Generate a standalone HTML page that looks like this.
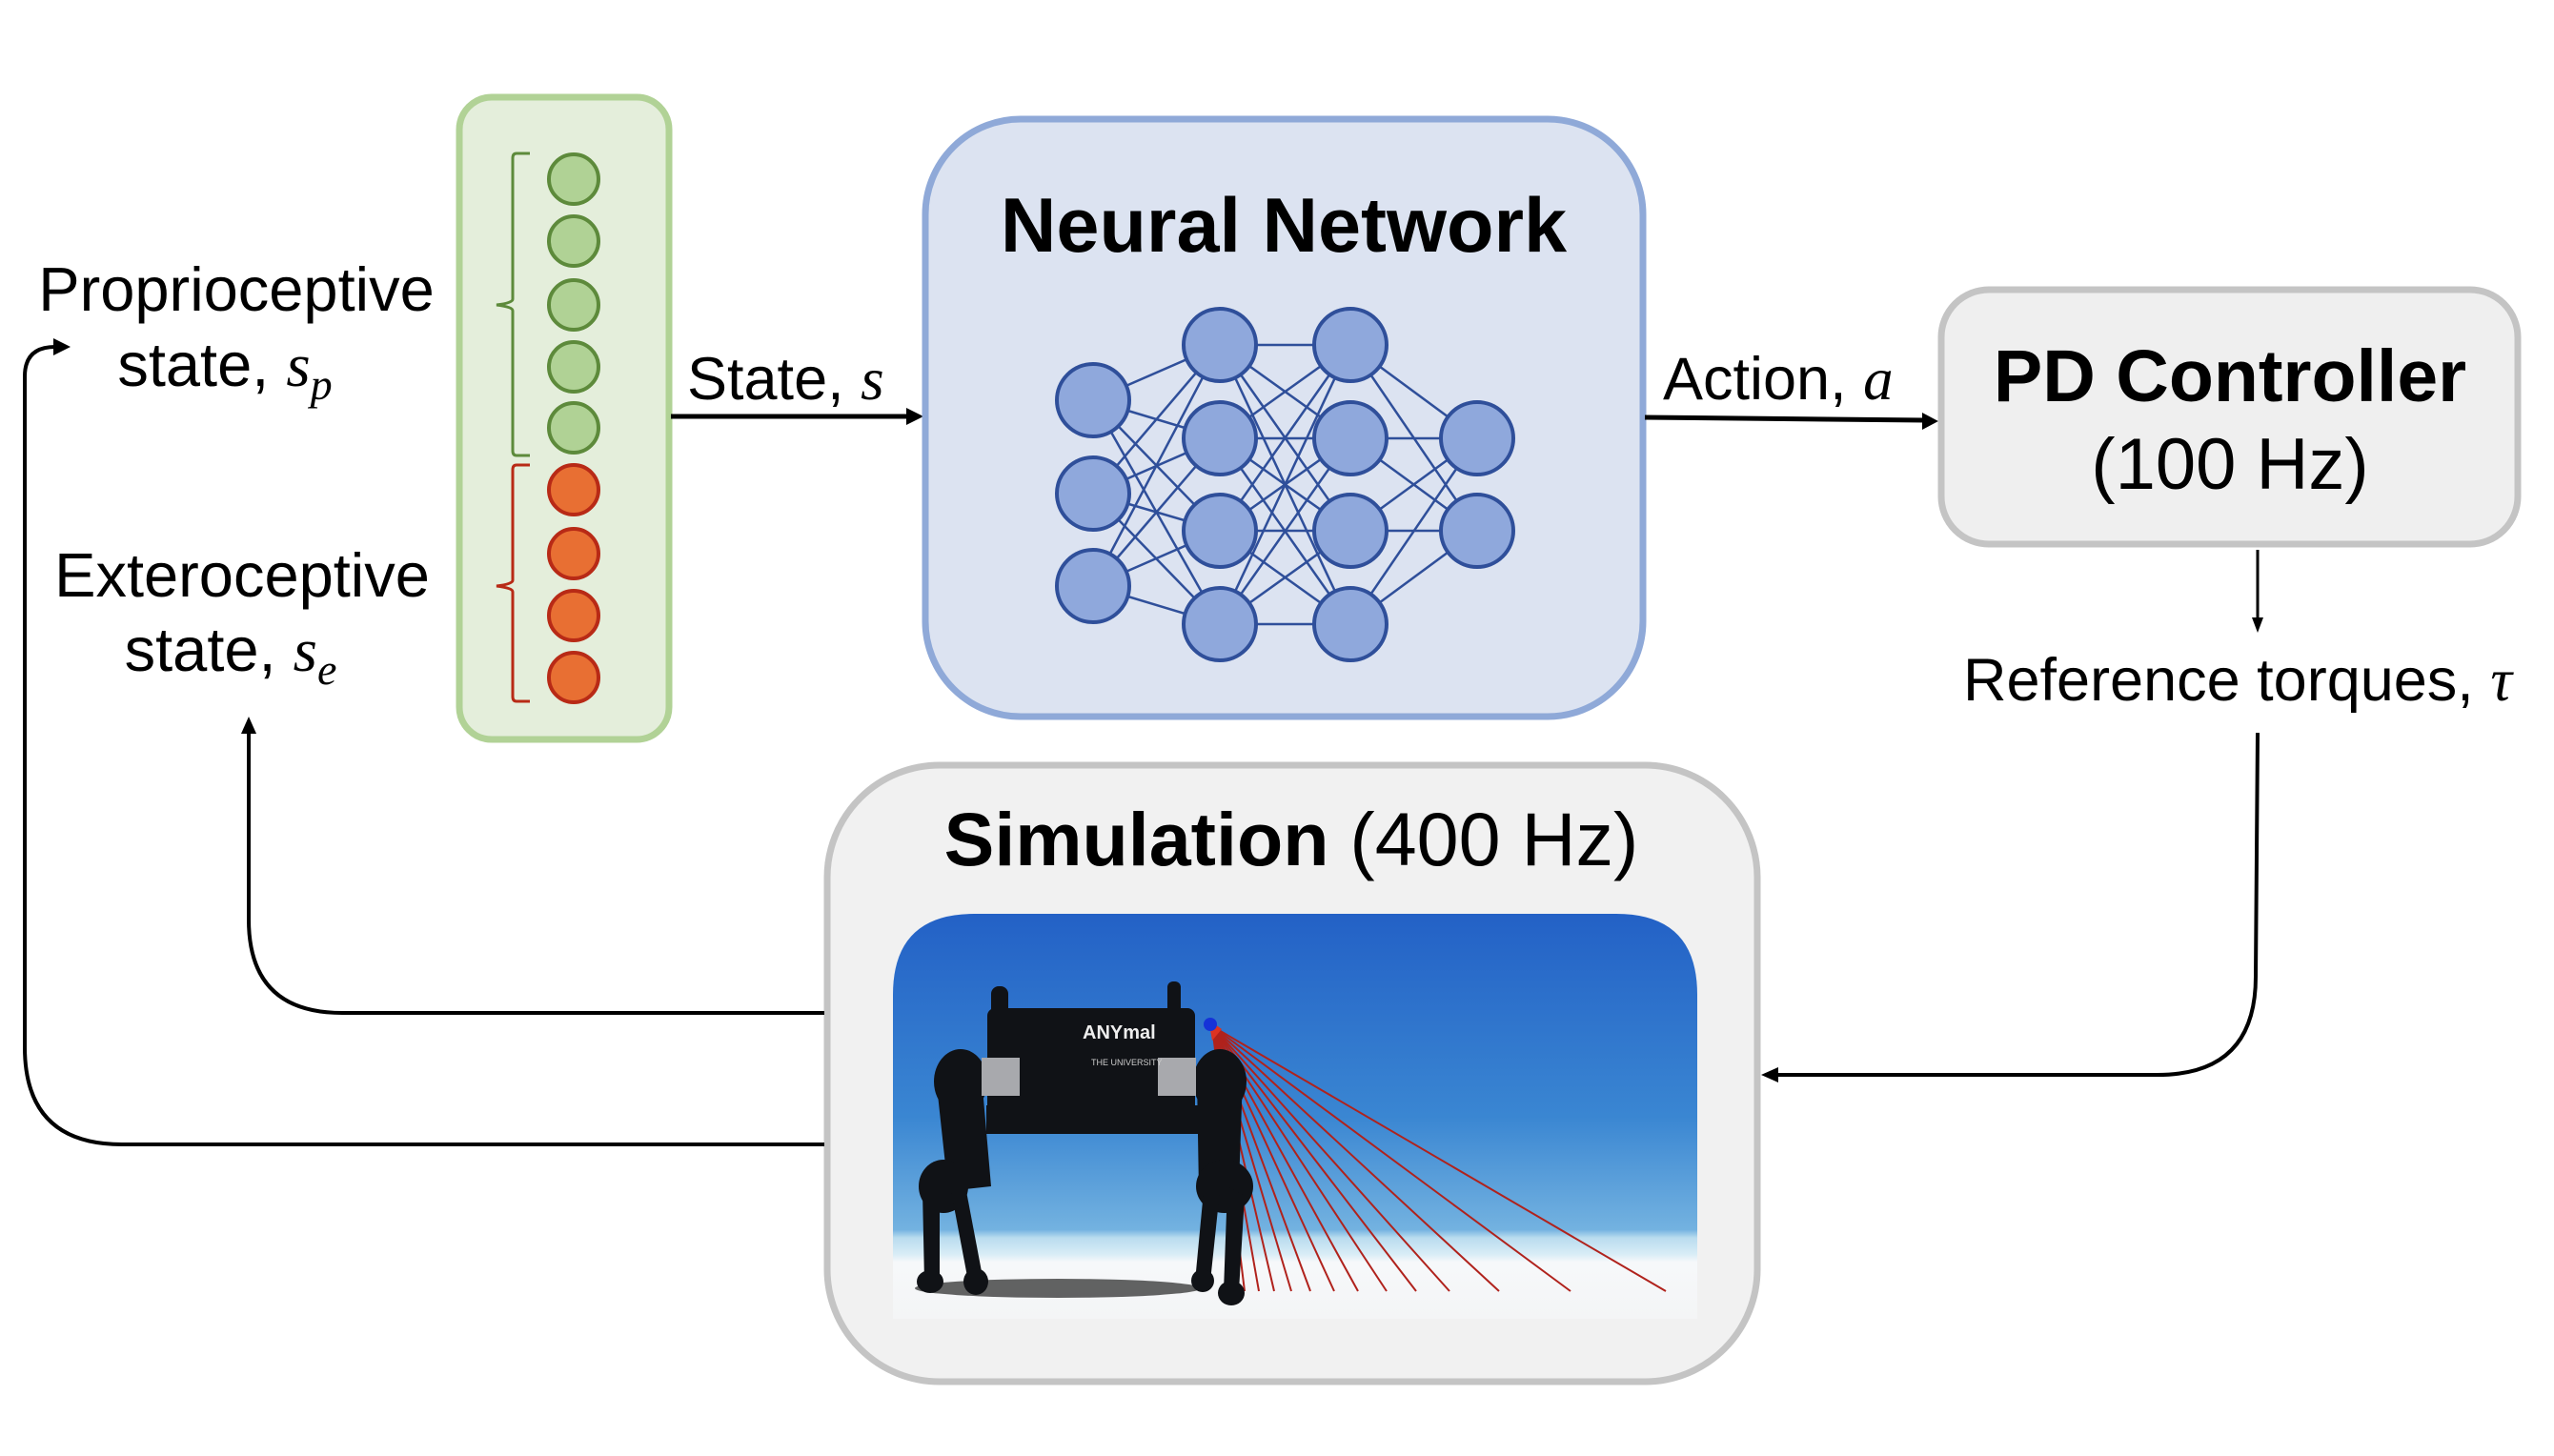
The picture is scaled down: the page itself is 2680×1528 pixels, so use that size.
<!DOCTYPE html>
<html><head><meta charset="utf-8"><style>
html,body{margin:0;padding:0;background:#fff}
svg{display:block}
text{font-family:"Liberation Sans",Arial,sans-serif}
.m{font-family:"Liberation Serif",serif;font-style:italic}
</style></head><body>
<svg width="2680" height="1528" viewBox="0 0 2680 1528" xmlns="http://www.w3.org/2000/svg">
<defs>
<linearGradient id="sky" x1="0" y1="0" x2="0" y2="1">
<stop offset="0" stop-color="#2361c6"/><stop offset="0.5" stop-color="#3a86d2"/><stop offset="0.78" stop-color="#73b2e0"/><stop offset="0.8" stop-color="#b9dcef"/><stop offset="0.84" stop-color="#d8ecf6"/><stop offset="0.86" stop-color="#f6f8fa"/><stop offset="1" stop-color="#f4f5f6"/>
</linearGradient>
<clipPath id="imgclip"><path d="M937,1384 L937,1044 Q937,959 1022,959 L1696,959 Q1781,959 1781,1044 L1781,1384 Z"/></clipPath>
</defs>

<rect x="482" y="102" width="220" height="674" rx="34" fill="#e4eedb" stroke="#b1d296" stroke-width="7"/>
<g stroke="#5d8a3b" stroke-width="4" fill="#b0d295">
<circle cx="602" cy="188" r="26"/><circle cx="602" cy="253" r="26"/><circle cx="602" cy="320" r="26"/><circle cx="602" cy="385" r="26"/><circle cx="602" cy="449" r="26"/>
</g>
<g stroke="#b82a16" stroke-width="4" fill="#e86f33">
<circle cx="602" cy="514" r="26"/><circle cx="602" cy="581" r="26"/><circle cx="602" cy="646" r="26"/><circle cx="602" cy="711" r="26"/>
</g>
<path d="M556,161 L542,161 Q538,161 538,166 L538,314 Q538,318 521,320 Q538,322 538,326 L538,473 Q538,478 542,478 L556,478" fill="none" stroke="#5d8a3b" stroke-width="3"/>
<path d="M556,488 L542,488 Q538,488 538,493 L538,609 Q538,613 521,615 Q538,617 538,621 L538,731 Q538,736 542,736 L556,736" fill="none" stroke="#b82a16" stroke-width="3"/>

<text x="248" y="326" font-size="65" text-anchor="middle">Proprioceptive</text>
<text x="236" y="405" font-size="65" text-anchor="middle">state, <tspan class="m">s</tspan><tspan class="m" font-size="46" dy="14">p</tspan></text>
<text x="254" y="626" font-size="65" text-anchor="middle">Exteroceptive</text>
<text x="242" y="704" font-size="65" text-anchor="middle">state, <tspan class="m">s</tspan><tspan class="m" font-size="46" dy="14">e</tspan></text>

<text x="721" y="419" font-size="63">State, <tspan class="m">s</tspan></text>
<line x1="704" y1="437" x2="955" y2="437" stroke="#000" stroke-width="5"/>
<path d="M969,437 L951,428 L951,446 Z" fill="#000"/>

<rect x="971" y="125" width="753" height="627" rx="100" fill="#dce3f1" stroke="#8fa9d8" stroke-width="7"/>
<text x="1347" y="264" font-size="81" font-weight="bold" text-anchor="middle">Neural Network</text>
<g stroke="#2f4f9a" stroke-width="2.5">
<line x1="1147" y1="420" x2="1280" y2="362"/><line x1="1147" y1="420" x2="1280" y2="460"/><line x1="1147" y1="420" x2="1280" y2="557"/><line x1="1147" y1="420" x2="1280" y2="655"/>
<line x1="1147" y1="518" x2="1280" y2="362"/><line x1="1147" y1="518" x2="1280" y2="460"/><line x1="1147" y1="518" x2="1280" y2="557"/><line x1="1147" y1="518" x2="1280" y2="655"/>
<line x1="1147" y1="615" x2="1280" y2="362"/><line x1="1147" y1="615" x2="1280" y2="460"/><line x1="1147" y1="615" x2="1280" y2="557"/><line x1="1147" y1="615" x2="1280" y2="655"/>
<line x1="1280" y1="362" x2="1417" y2="362"/><line x1="1280" y1="362" x2="1417" y2="460"/><line x1="1280" y1="362" x2="1417" y2="557"/><line x1="1280" y1="362" x2="1417" y2="655"/>
<line x1="1280" y1="460" x2="1417" y2="362"/><line x1="1280" y1="460" x2="1417" y2="460"/><line x1="1280" y1="460" x2="1417" y2="557"/><line x1="1280" y1="460" x2="1417" y2="655"/>
<line x1="1280" y1="557" x2="1417" y2="362"/><line x1="1280" y1="557" x2="1417" y2="460"/><line x1="1280" y1="557" x2="1417" y2="557"/><line x1="1280" y1="557" x2="1417" y2="655"/>
<line x1="1280" y1="655" x2="1417" y2="362"/><line x1="1280" y1="655" x2="1417" y2="460"/><line x1="1280" y1="655" x2="1417" y2="557"/><line x1="1280" y1="655" x2="1417" y2="655"/>
<line x1="1417" y1="362" x2="1550" y2="460"/><line x1="1417" y1="362" x2="1550" y2="557"/>
<line x1="1417" y1="460" x2="1550" y2="460"/><line x1="1417" y1="460" x2="1550" y2="557"/>
<line x1="1417" y1="557" x2="1550" y2="460"/><line x1="1417" y1="557" x2="1550" y2="557"/>
<line x1="1417" y1="655" x2="1550" y2="460"/><line x1="1417" y1="655" x2="1550" y2="557"/>
</g>
<g fill="#8fa8dc" stroke="#2f4f9a" stroke-width="4">
<circle cx="1147" cy="420" r="38"/><circle cx="1147" cy="518" r="38"/><circle cx="1147" cy="615" r="38"/>
<circle cx="1280" cy="362" r="38"/><circle cx="1280" cy="460" r="38"/><circle cx="1280" cy="557" r="38"/><circle cx="1280" cy="655" r="38"/>
<circle cx="1417" cy="362" r="38"/><circle cx="1417" cy="460" r="38"/><circle cx="1417" cy="557" r="38"/><circle cx="1417" cy="655" r="38"/>
<circle cx="1550" cy="460" r="38"/><circle cx="1550" cy="557" r="38"/>
</g>

<text x="1745" y="419" font-size="63">Action, <tspan class="m">a</tspan></text>
<line x1="1726" y1="438" x2="2020" y2="441" stroke="#000" stroke-width="5"/>
<path d="M2034,442 L2017,433 L2017,451 Z" fill="#000"/>

<rect x="2037" y="304" width="605" height="267" rx="50" fill="#efefef" stroke="#c4c4c4" stroke-width="7"/>
<text x="2340" y="421" font-size="77" font-weight="bold" text-anchor="middle">PD Controller</text>
<text x="2340" y="513" font-size="76" text-anchor="middle">(100 Hz)</text>

<line x1="2369" y1="577" x2="2369" y2="650" stroke="#000" stroke-width="3"/>
<path d="M2369,664 L2363,648 L2375,648 Z" fill="#000"/>
<text x="2060" y="735" font-size="63">Reference torques, <tspan class="m">τ</tspan></text>

<path d="M2369,769 L2367,1025 Q2367,1128 2264,1128 L1862,1128" fill="none" stroke="#000" stroke-width="4"/>
<path d="M1848,1128 L1866,1120 L1866,1136 Z" fill="#000"/>

<rect x="868" y="803" width="976" height="647" rx="118" fill="#f1f1f1" stroke="#c4c4c4" stroke-width="7"/>
<text x="1355" y="908" font-size="79" text-anchor="middle"><tspan font-weight="bold">Simulation</tspan> (400 Hz)</text>

<g clip-path="url(#imgclip)">
<rect x="937" y="959" width="844" height="425" fill="url(#sky)"/>
<ellipse cx="1110" cy="1352" rx="150" ry="10" fill="#222" opacity="0.7"/>
<g stroke="#b0221c" stroke-width="2">
<line x1="1272" y1="1077" x2="1306" y2="1355"/><line x1="1272" y1="1077" x2="1321" y2="1355"/><line x1="1272" y1="1077" x2="1337" y2="1355"/><line x1="1272" y1="1077" x2="1355" y2="1355"/><line x1="1272" y1="1077" x2="1375" y2="1355"/><line x1="1272" y1="1077" x2="1400" y2="1355"/><line x1="1272" y1="1077" x2="1425" y2="1355"/><line x1="1272" y1="1077" x2="1455" y2="1355"/><line x1="1272" y1="1077" x2="1486" y2="1355"/><line x1="1272" y1="1077" x2="1521" y2="1355"/><line x1="1272" y1="1077" x2="1573" y2="1355"/><line x1="1272" y1="1077" x2="1648" y2="1355"/><line x1="1272" y1="1077" x2="1748" y2="1355"/>
</g>
<path d="M1268,1070 L1282,1080 L1272,1092 Z" fill="#d32"/>
<circle cx="1270" cy="1075" r="7" fill="#1533d8"/>
<g fill="#101216">
<rect x="1040" y="1035" width="18" height="35" rx="8"/>
<rect x="1225" y="1030" width="14" height="40" rx="6"/>
<rect x="1036" y="1058" width="218" height="115" rx="8"/>
<rect x="1035" y="1160" width="222" height="30"/>
<ellipse cx="1008" cy="1135" rx="28" ry="34"/>
<ellipse cx="1280" cy="1135" rx="28" ry="34"/>
<path d="M982,1130 L1030,1130 L1040,1245 L995,1250 Z"/>
<path d="M1256,1130 L1304,1130 L1300,1245 L1258,1250 Z"/>
<ellipse cx="990" cy="1245" rx="26" ry="28"/>
<ellipse cx="1285" cy="1245" rx="30" ry="28"/>
<path d="M968,1250 L986,1250 L986,1345 L970,1345 Z"/>
<path d="M998,1250 L1014,1250 L1032,1345 L1016,1345 Z"/>
<path d="M1263,1250 L1280,1250 L1270,1345 L1254,1345 Z"/>
<path d="M1288,1245 L1306,1255 L1300,1355 L1284,1355 Z"/>
<ellipse cx="976" cy="1345" rx="14" ry="12"/><ellipse cx="1024" cy="1345" rx="13" ry="14"/><ellipse cx="1262" cy="1344" rx="12" ry="12"/><ellipse cx="1292" cy="1357" rx="14" ry="13"/>
</g>
<rect x="1030" y="1110" width="40" height="40" fill="#a8a9ad"/>
<rect x="1215" y="1110" width="40" height="40" fill="#a8a9ad"/>
<text x="1136" y="1090" font-size="20" fill="#eee" font-weight="bold">ANYmal</text>
<text x="1145" y="1118" font-size="9" fill="#ccc">THE UNIVERSITY</text>
</g>

<path d="M865,1063 L359,1063 Q261,1063 261,965 L261,766" fill="none" stroke="#000" stroke-width="4"/>
<path d="M261,752 L253,770 L269,770 Z" fill="#000"/>
<path d="M865,1201 L128,1201 Q26,1201 26,1099 L26,395 Q26,364 58,364" fill="none" stroke="#000" stroke-width="4"/>
<path d="M74,364 L56,355 L56,373 Z" fill="#000"/>
</svg>
</body></html>
